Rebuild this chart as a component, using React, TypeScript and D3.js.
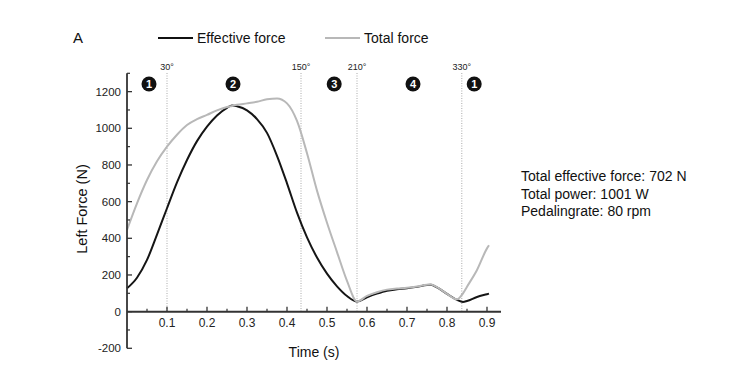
import * as d3 from 'd3'
import React from 'react'

// time (s) for both curves
const time = [0, 0.025, 0.05, 0.075, 0.1, 0.125, 0.15, 0.175, 0.2, 0.225, 0.25, 0.2625, 0.275, 0.3, 0.325, 0.35, 0.375, 0.4, 0.425, 0.45, 0.475, 0.5, 0.525, 0.55, 0.575, 0.6, 0.625, 0.65, 0.675, 0.7, 0.725, 0.75, 0.76, 0.775, 0.8, 0.825, 0.84, 0.85, 0.875, 0.9, 0.905]

const effectiveForce = [127, 185, 282, 420, 564, 705, 827, 930, 1009, 1070, 1112, 1125, 1120, 1098, 1050, 975, 850, 700, 540, 405, 295, 207, 138, 85, 55, 78, 98, 114, 122, 127, 135, 145, 146, 132, 97, 64, 53, 58, 80, 95, 98]

const totalForce = [446, 591, 718, 820, 900, 965, 1018, 1050, 1073, 1098, 1116, 1122, 1128, 1136, 1145, 1158, 1163, 1136, 1040, 864, 660, 485, 325, 168, 56, 86, 106, 120, 126, 130, 137, 147, 148, 134, 97, 67, 100, 136, 227, 345, 362]

const xTicks = [0.1, 0.2, 0.3, 0.4, 0.5, 0.6, 0.7, 0.8, 0.9]
const yTicks = [-200, 0, 200, 400, 600, 800, 1000, 1200]

const angleTimes = [0.1, 0.435, 0.575, 0.837]
const angleLabels = ['30°', '150°', '210°', '330°']

const phaseTimes = [0.055, 0.265, 0.518, 0.715, 0.868]
const phaseLabels = ['1', '2', '3', '4', '1']

const infoLines = ['Total effective force: 702 N', 'Total power: 1001 W', 'Pedalingrate: 80 rpm']

const font = 'Liberation Sans, Arial, sans-serif'

const App = () => {
  const x = d3.scaleLinear().domain([0, 0.935]).range([127, 501])
  const y = d3.scaleLinear().domain([-200, 1300]).range([348.3, 73.3])

  const line = d3.line<number>()
    .x((d, i) => x(time[i]))
    .y(d => y(d))
    .curve(d3.curveMonotoneX)

  const minorX = d3.range(0.05, 0.93, 0.1)
  const minorY = d3.range(-100, 1301, 200)
  const axisColor = '#333'

  return (
    <svg width={737} height={373} style={{ position: 'absolute', left: 0, top: 0 }} fontFamily={font}>
      <rect width={737} height={373} fill="#fff" />

      {/* panel letter + legend */}
      <text x={73} y={43} fontSize={15} fill="#111">A</text>
      <line x1={158} x2={193} y1={38} y2={38} stroke="#111" strokeWidth={2} />
      <text x={197} y={43} fontSize={14} fill="#111">Effective force</text>
      <line x1={325} x2={360} y1={38} y2={38} stroke="#b8b8b8" strokeWidth={2} />
      <text x={364} y={43} fontSize={14} fill="#111">Total force</text>

      {/* crank angle markers */}
      {angleTimes.map((t, i) => (
        <g key={'a' + i}>
          <line x1={x(t)} x2={x(t)} y1={73} y2={y(0)} stroke="#aaa" strokeWidth={1} strokeDasharray="1,1.5" />
          <text x={x(t)} y={70} fontSize={9} textAnchor="middle" fill="#222">{angleLabels[i]}</text>
        </g>
      ))}

      {phaseTimes.map((t, i) => (
        <g key={'p' + i}>
          <circle cx={x(t)} cy={84} r={7.5} fill="#111" />
          <text x={x(t)} y={88} fontSize={11} fontWeight="bold" textAnchor="middle" fill="#fff">{phaseLabels[i]}</text>
        </g>
      ))}

      {/* curves */}
      <path d={line(effectiveForce) || ''} fill="none" stroke="#151515" strokeWidth={2} />
      <path d={line(totalForce) || ''} fill="none" stroke="#b8b8b8" strokeWidth={2} />

      {/* y axis */}
      <line x1={x(0)} x2={x(0)} y1={y(-200)} y2={y(1300)} stroke={axisColor} strokeWidth={1.8} />
      {yTicks.map(v => (
        <g key={'y' + v}>
          <line x1={x(0)} x2={x(0) + 5} y1={y(v)} y2={y(v)} stroke={axisColor} strokeWidth={1.3} />
          <text x={121} y={y(v) + 4} fontSize={11.5} textAnchor="end" fill="#222">{v}</text>
        </g>
      ))}
      {minorY.map(v => (
        <line key={'my' + v} x1={x(0)} x2={x(0) + 3} y1={y(v)} y2={y(v)} stroke={axisColor} strokeWidth={1.2} />
      ))}

      {/* x axis at zero */}
      <line x1={x(0)} x2={x(0.935)} y1={y(0)} y2={y(0)} stroke={axisColor} strokeWidth={2} />
      {xTicks.map(v => (
        <g key={'x' + v}>
          <line x1={x(v)} x2={x(v)} y1={y(0)} y2={y(0) - 5} stroke={axisColor} strokeWidth={1.3} />
          <text x={x(v)} y={327} fontSize={12} textAnchor="middle" fill="#222">{v}</text>
        </g>
      ))}
      {minorX.map(v => (
        <line key={'mx' + v} x1={x(v)} x2={x(v)} y1={y(0)} y2={y(0) - 3} stroke={axisColor} strokeWidth={1.2} />
      ))}

      <text x={314} y={357} fontSize={14} textAnchor="middle" fill="#111">Time (s)</text>
      <text transform="translate(87,209) rotate(-90)" fontSize={14.5} textAnchor="middle" fill="#111">Left Force (N)</text>

      {infoLines.map((s, i) => (
        <text key={s} x={521} y={181 + i * 17.5} fontSize={14} fill="#111">{s}</text>
      ))}
    </svg>
  )
}

export default App
